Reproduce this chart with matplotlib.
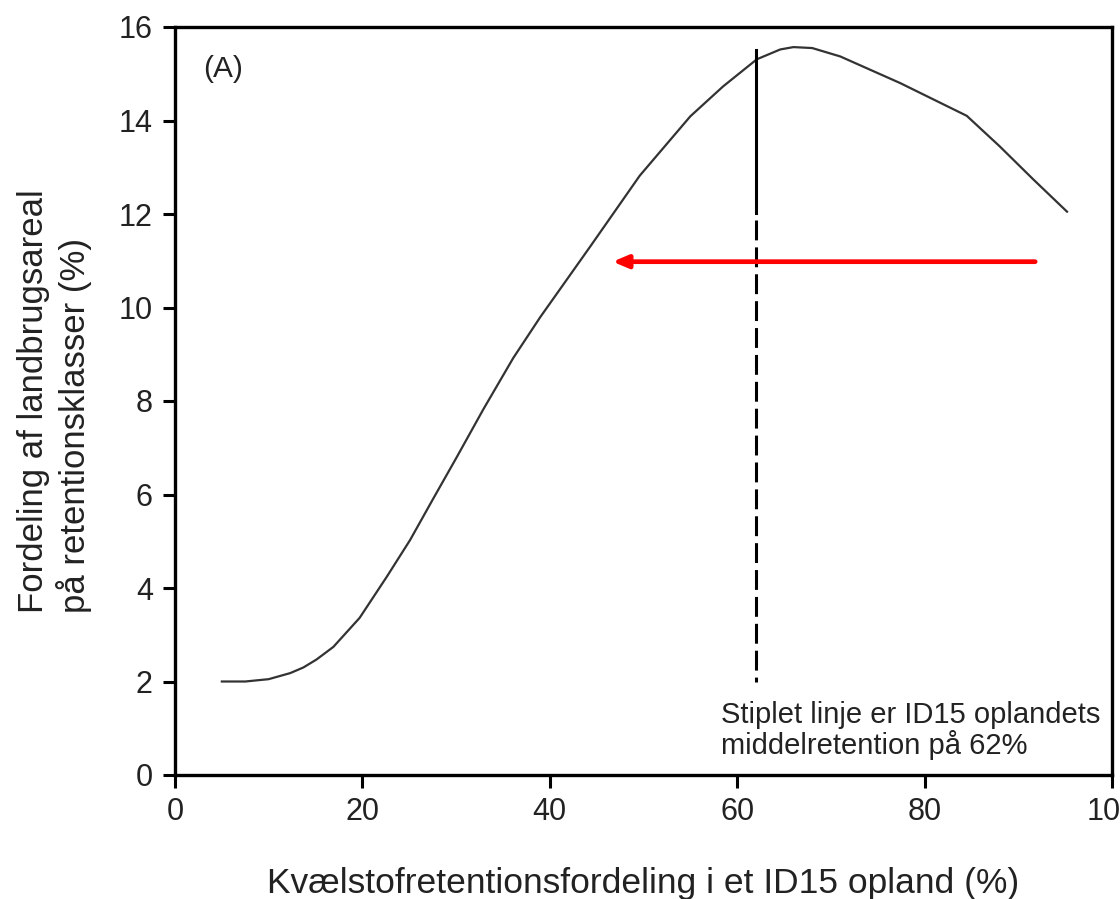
import numpy as np
import matplotlib
matplotlib.use("Agg")
import matplotlib.pyplot as plt

plt.rcParams['font.family'] = ['Liberation Sans', 'DejaVu Sans']

# kurve
ret_x = [5, 7.5, 10, 12.3, 13.7, 15.1, 16.9, 19.7, 22.6, 25.1, 27.5, 30.1, 32.9,
         36.1, 39.0, 44.3, 49.6, 55.0, 58.5, 62.1, 64.6, 66.0, 68.0, 71.0, 77.4,
         84.5, 88.0, 91.6, 95.2]
areal_y = [2.0, 2.0, 2.05, 2.18, 2.3, 2.47, 2.74, 3.36, 4.24, 5.03, 5.89, 6.81, 7.82,
           8.92, 9.8, 11.3, 12.82, 14.09, 14.73, 15.31, 15.52, 15.57, 15.55, 15.37, 14.8,
           14.1, 13.45, 12.74, 12.05]

mean_ret = 62
mean_line_top = 15.5
mean_line_split = 12.03
mean_line_bottom = 2.0
arrow_from = (91.8, 10.98)
arrow_to = (46.7, 10.98)

x_ticks = [0, 20, 40, 60, 80, 100]
y_ticks = [0, 2, 4, 6, 8, 10, 12, 14, 16]

fig = plt.figure(figsize=(11.2, 8.99), dpi=100)
ax = fig.add_axes([175/1120, 1 - 775/899, (1112 - 175)/1120, (775 - 27)/899])

ax.plot(ret_x, areal_y, color='#333333', lw=1.6)

# stiplet linje: øverst næsten ubrudt, nederst tydelige streger
ax.plot([mean_ret, mean_ret], [mean_line_top, mean_line_split], color='black', lw=2.2)
ax.plot([mean_ret, mean_ret], [mean_line_split - 0.15, mean_line_bottom], color='black',
        lw=2.2, dashes=(6.5, 2.3))

ax.annotate('', xy=arrow_to, xytext=arrow_from,
            arrowprops=dict(arrowstyle='-|>,head_length=0.9,head_width=0.38',
                            color='#ff0000', lw=3.4, shrinkA=0, shrinkB=0))

ax.text(3.0, 15.1, '(A)', fontsize=21.5, va='center', ha='left', color='#222222')
ax.text(58.3, 0.95, 'Stiplet linje er ID15 oplandets\nmiddelretention på 62%',
        fontsize=21, va='center', ha='left', color='#222222', linespacing=1.05)

ax.set_xlim(0, 100)
ax.set_ylim(0, 16)
ax.set_xticks(x_ticks)
ax.set_yticks(y_ticks)
ax.tick_params(direction='out', length=9, width=2.2, labelsize=22, pad=7,
               colors='black', labelcolor='#222222')
for s in ax.spines.values():
    s.set_linewidth(2.4)

ax.set_xlabel('Kvælstofretentionsfordeling i et ID15 opland (%)', fontsize=25.5,
              labelpad=29, color='#222222')
ax.set_ylabel('Fordeling af landbrugsareal\npå retentionsklasser (%)', fontsize=25,
              labelpad=19, color='#222222', multialignment='left')

fig.savefig('out.png', dpi=100)
